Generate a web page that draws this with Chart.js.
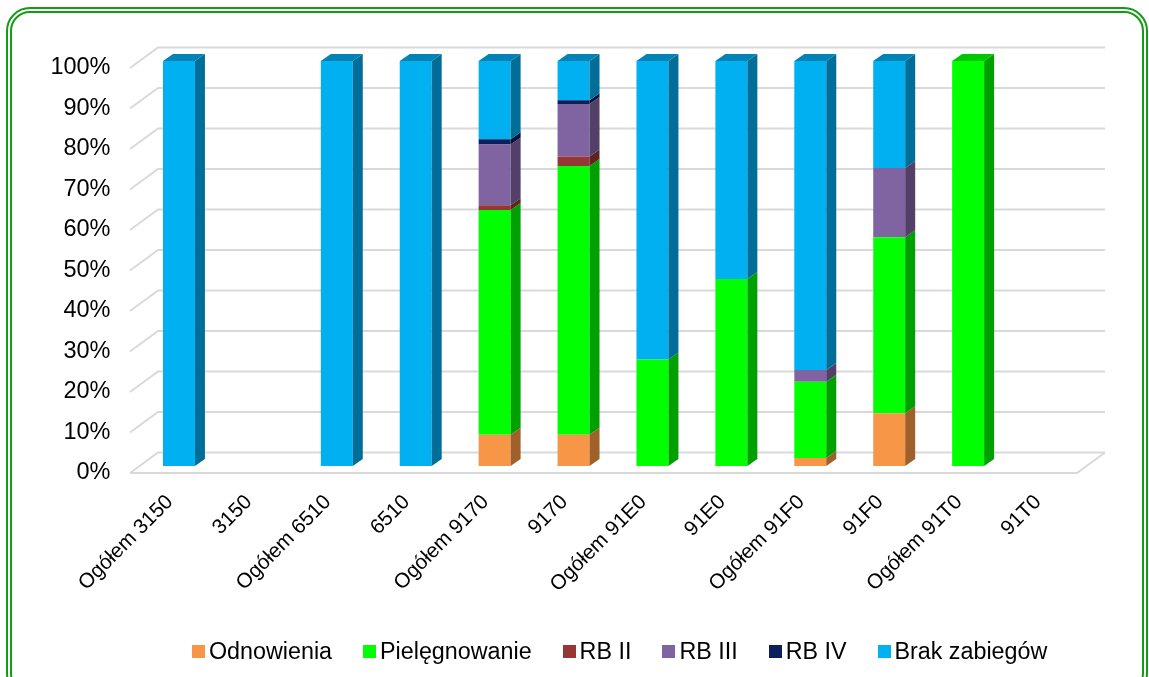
<!DOCTYPE html>
<html>
<head>
<meta charset="utf-8">
<script src="https://cdn.jsdelivr.net/npm/chart.js@4.4.1/dist/chart.umd.min.js"></script>
<style>
    html, body { margin: 0; padding: 0; background: #fff; overflow: hidden; }
    #wrap { position: relative; width: 1149px; height: 677px; overflow: hidden; }
    #frame { position: absolute; left: 6px; top: 7px; width: 1142px; height: 690px; box-sizing: border-box; border: 6px double #139c13; border-radius: 24px; }
    #chart { position: absolute; left: 0; top: 0; }
    #legend { position: absolute; left: 192px; top: 636px; display: flex; font-family: "Liberation Sans", Arial, sans-serif; font-size: 23.3px; color: #000; }
    #legend .item { display: flex; align-items: center; margin-right: 31px; height: 30px; white-space: nowrap; }
    #legend .box { width: 13px; height: 13px; margin-right: 4px; }
</style>
</head>
<body>
<div id="wrap">
    <div id="frame"></div>
    <canvas id="chart" width="1149" height="677"></canvas>
    <div id="legend"></div>
</div>
<script>
// kategorie i udziały (%)
const labels = ["Ogółem 3150", "3150", "Ogółem 6510", "6510", "Ogółem 9170", "9170", "Ogółem 91E0", "91E0", "Ogółem 91F0", "91F0", "Ogółem 91T0", "91T0"];
const odnowienia    = [0, 0, 0, 0, 7.7, 7.7, 0, 0, 2.0, 13.0, 0, 0];
const pielegnowanie = [0, 0, 0, 0, 55.5, 66.4, 26.3, 46.2, 18.8, 43.5, 100, 0];
const rbII          = [0, 0, 0, 0, 1.2, 2.3, 0, 0, 0, 0, 0, 0];
const rbIII         = [0, 0, 0, 0, 15.0, 13.0, 0, 0, 2.9, 17.1, 0, 0];
const rbIV          = [0, 0, 0, 0, 1.3, 0.9, 0, 0, 0, 0, 0, 0];
const brakZabiegow  = [100, 0, 100, 100, 19.3, 9.7, 73.7, 53.8, 76.3, 26.4, 0, 0];
const yTicks = [0, 10, 20, 30, 40, 50, 60, 70, 80, 90, 100];

const seriesNames = ["Odnowienia", "Pielęgnowanie", "RB II", "RB III", "RB IV", "Brak zabiegów"];
const seriesData = [odnowienia, pielegnowanie, rbII, rbIII, rbIV, brakZabiegow];
const frontColors = ["#F79646", "#00FF00", "#953735", "#8064A2", "#0A1F5C", "#00B0F0"];
const sideColors  = ["#A0602C", "#00A000", "#5E2221", "#524068", "#04133D", "#006E99"];
const topColors   = ["#C87838", "#00C800", "#782B2A", "#6A5388", "#071850", "#0283B5"];

// przesunięcia "3D"
const DX = 10, DY = -7;          // głębokość słupka
const FX = -9.5, FY = 7;         // przednia płaszczyzna siatki
const BX = 18.5, BY = -13.5;     // tylna ściana siatki

const grid3d = {
    id: 'grid3d',
    beforeDatasetsDraw: function (chart) {
        const ctx = chart.ctx, area = chart.chartArea, ys = chart.scales.y;
        ctx.save();
        ctx.strokeStyle = '#d9d9d9';
        ctx.lineWidth = 2;
        yTicks.forEach(function (v) {
            const yb = ys.getPixelForValue(v);
            ctx.beginPath();
            ctx.moveTo(area.left + FX, yb + FY);
            ctx.lineTo(area.left + BX, yb + BY);
            ctx.lineTo(area.right + BX, yb + BY);
            ctx.stroke();
        });
        const y0 = ys.getPixelForValue(0);
        ctx.beginPath();
        ctx.moveTo(area.left + FX, y0 + FY);
        ctx.lineTo(area.right + FX, y0 + FY);
        ctx.lineTo(area.right + BX, y0 + BY);
        ctx.stroke();
        ctx.restore();
    }
};

const bars3d = {
    id: 'bars3d',
    afterDatasetsDraw: function (chart) {
        const ctx = chart.ctx;
        const tops = {};
        ctx.save();
        chart.data.datasets.forEach(function (ds, d) {
            const meta = chart.getDatasetMeta(d);
            meta.data.forEach(function (bar, i) {
                if (!ds.data[i]) return;
                const p = bar.getProps(['x', 'y', 'base', 'width'], true);
                const xr = p.x + p.width / 2;
                ctx.fillStyle = sideColors[d];
                ctx.beginPath();
                ctx.moveTo(xr, p.y);
                ctx.lineTo(xr + DX, p.y + DY);
                ctx.lineTo(xr + DX, p.base + DY);
                ctx.lineTo(xr, p.base);
                ctx.closePath();
                ctx.fill();
                tops[i] = { p: p, d: d };
            });
        });
        Object.keys(tops).forEach(function (i) {
            const p = tops[i].p, d = tops[i].d;
            const xl = p.x - p.width / 2, xr = p.x + p.width / 2;
            ctx.fillStyle = topColors[d];
            ctx.beginPath();
            ctx.moveTo(xl, p.y);
            ctx.lineTo(xl + DX, p.y + DY);
            ctx.lineTo(xr + DX, p.y + DY);
            ctx.lineTo(xr, p.y);
            ctx.closePath();
            ctx.fill();
        });
        ctx.restore();
    }
};

const datasets = seriesNames.map(function (name, d) {
    return {
        label: name,
        data: seriesData[d],
        backgroundColor: frontColors[d],
        borderWidth: 0,
        categoryPercentage: 1,
        barPercentage: 0.405
    };
});

const fontFamily = "'Liberation Sans', Arial, sans-serif";

new Chart(document.getElementById('chart').getContext('2d'), {
    type: 'bar',
    data: { labels: labels, datasets: datasets },
    plugins: [grid3d, bars3d],
    options: {
        responsive: false,
        animation: false,
        devicePixelRatio: 1,
        layout: { padding: { left: 10, right: 62.5, top: 61, bottom: 0 } },
        plugins: { legend: { display: false }, tooltip: { enabled: false } },
        scales: {
            x: {
                stacked: true,
                grid: { display: false, drawTicks: false },
                border: { display: false },
                ticks: { color: '#000', font: { family: fontFamily, size: 20.7 }, autoSkip: false, minRotation: 45, maxRotation: 45, labelOffset: -9, padding: 24 },
                afterFit: function (s) { s.height = 211; }
            },
            y: {
                stacked: true,
                min: 0,
                max: 100,
                grid: { display: false, drawTicks: false },
                border: { display: false },
                ticks: { color: '#000', font: { family: fontFamily, size: 23.5 }, stepSize: 10, labelOffset: 7, padding: 29,
                    callback: function (v) { return v + '%'; } },
                afterFit: function (s) { s.width = 129.5; }
            }
        }
    }
});

// legenda
const legend = document.getElementById('legend');
seriesNames.forEach(function (name, d) {
    const item = document.createElement('div');
    item.className = 'item';
    const box = document.createElement('span');
    box.className = 'box';
    box.style.background = frontColors[d];
    const txt = document.createElement('span');
    txt.textContent = name;
    item.appendChild(box);
    item.appendChild(txt);
    legend.appendChild(item);
});
</script>
</body>
</html>
